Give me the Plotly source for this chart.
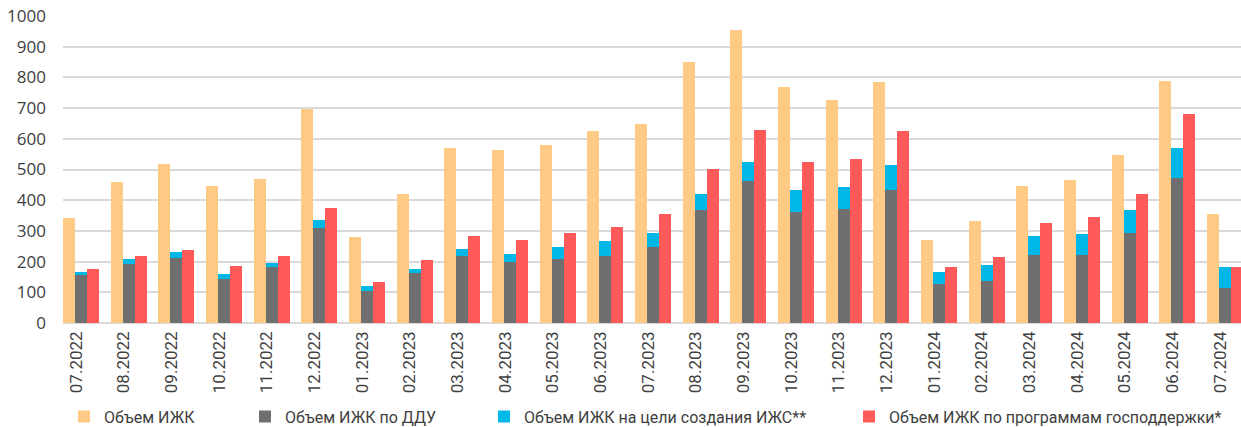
import plotly.graph_objects as go

categories = ["07.2022", "08.2022", "09.2022", "10.2022", "11.2022", "12.2022",
              "01.2023", "02.2023", "03.2023", "04.2023", "05.2023", "06.2023",
              "07.2023", "08.2023", "09.2023", "10.2023", "11.2023", "12.2023",
              "01.2024", "02.2024", "03.2024", "04.2024", "05.2024", "06.2024",
              "07.2024"]

# Объем ИЖК
total_izhk = [341, 458, 517, 447, 470, 697, 281, 421, 569, 565, 579, 626,
              647, 849, 956, 770, 726, 784, 271, 332, 446, 465, 546, 787, 356]
# Объем ИЖК по ДДУ
ddu = [157, 192, 213, 143, 181, 310, 104, 164, 219, 198, 208, 219,
       248, 369, 464, 360, 372, 434, 128, 138, 222, 222, 294, 473, 115]
# Объем ИЖК на цели создания ИЖС** (stacked on top of ДДУ)
izhs = [10, 16, 17, 18, 16, 27, 16, 12, 22, 27, 39, 48,
        45, 51, 60, 73, 71, 80, 39, 52, 60, 67, 73, 96, 66]
# Объем ИЖК по программам господдержки*
gov = [176, 217, 238, 187, 219, 375, 133, 205, 285, 269, 294, 312,
       354, 501, 628, 524, 533, 624, 182, 216, 325, 346, 419, 680, 184]

names = ["Объем ИЖК", "Объем ИЖК по ДДУ", "Объем ИЖК на цели создания ИЖС**",
         "Объем ИЖК по программам господдержки*"]
colors = ["#FFC986", "#6F6F6F", "#00B8E8", "#FF5A5A"]

step_px = 47.67
bw = 12 / step_px
off_orange = -13 / step_px
off_gray = -1 / step_px
off_red = 11 / step_px

font_tick = "Roboto, sans-serif"
font_num = "Open Sans, Lato, sans-serif"
font_leg = "Roboto, sans-serif"

fig = go.Figure()
fig.add_trace(go.Bar(x=categories, y=total_izhk, name=names[0], marker_color=colors[0],
                     width=bw, offset=off_orange, legend="legend"))
fig.add_trace(go.Bar(x=categories, y=ddu, name=names[1], marker_color=colors[1],
                     width=bw, offset=off_gray, legend="legend2"))
fig.add_trace(go.Bar(x=categories, y=izhs, base=ddu, name=names[2], marker_color=colors[2],
                     width=bw, offset=off_gray, legend="legend3"))
fig.add_trace(go.Bar(x=categories, y=gov, name=names[3], marker_color=colors[3],
                     width=bw, offset=off_red, legend="legend4"))
fig.update_traces(marker_line_width=0)

plot_left, plot_right = 63, 1241
pw = plot_right - plot_left
def lx(px):
    return (px - plot_left) / pw

leg_common = dict(orientation="h", yanchor="middle", y=-0.305, xanchor="left",
                  font=dict(family=font_leg, size=16, color="#404040"),
                  bgcolor="rgba(0,0,0,0)", itemwidth=30, tracegroupgap=0)

fig.update_layout(
    width=1241, height=427,
    margin=dict(l=plot_left, r=1241 - plot_right, t=16, b=104, autoexpand=False),
    paper_bgcolor="white", plot_bgcolor="white",
    barmode="overlay",
    showlegend=True,
    legend=dict(x=lx(64), **leg_common),
    legend2=dict(x=lx(245), **leg_common),
    legend3=dict(x=lx(484), **leg_common),
    legend4=dict(x=lx(849), **leg_common),
    xaxis=dict(type="category", range=[-13 / step_px, (1241 - 76) / step_px],
               tickangle=-90, showgrid=False, ticks="", showline=False,
               tickfont=dict(family=font_tick, size=17, color="#404040"),
               ticklabelstandoff=4, automargin=False),
    yaxis=dict(range=[0, 1000], dtick=100, showgrid=True, gridcolor="#DADADA",
               gridwidth=2, zeroline=True, zerolinecolor="#DADADA", zerolinewidth=2,
               ticks="", showline=False,
               tickfont=dict(family=font_num, size=17, color="#404040"),
               ticklabelstandoff=16, automargin=False),
    bargap=0,
)

fig.write_html("out.html", config={"displayModeBar": False},
               post_script="document.body.style.margin='0';document.body.style.overflow='hidden';")
